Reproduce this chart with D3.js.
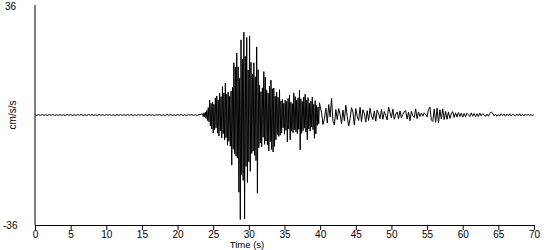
<!DOCTYPE html>
<html>
<head>
<meta charset="utf-8">
<script src="https://d3js.org/d3.v7.min.js"></script>
<style>
  body { margin: 0; background: #fff; }
  text { font-family: "Liberation Sans", Arial, sans-serif; fill: #000; }
</style>
</head>
<body>
<div id="chart"></div>
<script>
// axis labels
var yTickLabels = ["36", "-36"];
var xTickValues = [0, 5, 10, 15, 20, 25, 30, 35, 40, 45, 50, 55, 60, 65, 70];
var xTitle = "Time (s)";
var yTitle = "cm/s/s";

// pre-event noise, 0 - 23 s, one sample every 0.25 s
var preEventStart = 0, preEventStep = 0.25;
var preEvent = [0.1,-0.15,0.15,-0.1,0.15,-0.15,0.1,-0.15,0.15,-0.1,
  0.15,-0.15,0.1,-0.15,0.15,-0.1,0.1,-0.15,0.15,-0.1,
  0.15,-0.15,0.1,-0.15,0.15,-0.1,0.15,-0.15,0.1,-0.15,
  0.15,-0.1,0.15,-0.15,0.1,-0.15,0.15,-0.1,0.1,-0.15,
  0.15,-0.1,0.15,-0.15,0.1,-0.15,0.15,-0.1,0.15,-0.15,
  0.1,-0.15,0.15,-0.1,0.15,-0.15,0.1,-0.15,0.15,-0.1,
  0.15,-0.15,0.1,-0.15,0.15,-0.1,0.1,-0.15,0.15,-0.1,
  0.15,-0.15,0.1,-0.15,0.15,-0.1,0.15,-0.15,0.1,-0.15,
  0.15,-0.1,0.15,-0.15,0.1,-0.15,0.15,-0.1,0.15,-0.15,
  0.1,-0.15,0.1];

// strong motion peaks, 23.5 - 39.9 s, every 0.1 s
var strongStart = 23.5, strongStep = 0.1;
var strongMotion = [
  0.4,-0.5,0.7,-0.6,0.9,-1.1,1.5,-1.8,2.4,-2.2,
  4.9,-3.6,3.8,-4.5,4.1,-5.9,3.5,-4.8,5.6,-4.2,
  6.2,-5.8,4.9,-6.9,7.1,-5.2,6.0,-7.5,9.3,-6.1,
  7.2,-8.1,10.5,-7.4,6.8,-9.9,7.5,-8.6,6.1,-10.2,
  7.8,-16.4,9.1,-11.2,17.1,-12.8,15.6,-13.5,20.3,-14.1,
  15.8,-25.3,12.1,-34.2,24.6,-19.5,18.3,-21.4,27.1,-34.0,
  19.2,-16.8,25.4,-22.1,14.7,-15.3,25.9,-18.4,17.2,-12.6,
  13.4,-11.8,17.1,-13.2,12.5,-14.9,22.3,-25.6,14.8,-10.7,
  9.8,-9.1,7.6,-10.4,8.9,-7.3,14.2,-9.6,12.4,-8.5,
  8.1,-9.8,7.2,-11.8,9.4,-8.7,11.4,-11.3,8.6,-12.1,
  8.8,-10.3,6.2,-8.1,7.5,-6.4,5.8,-7.0,8.3,-6.6,
  4.6,-5.9,5.1,-4.2,3.8,-6.3,4.9,-5.0,4.4,-8.8,
  5.4,-4.6,6.5,-8.1,4.2,-5.3,3.7,-5.8,7.2,-4.9,
  6.0,-5.5,4.8,-6.1,5.6,-4.7,8.2,-11.4,5.3,-6.0,
  4.4,-5.1,5.9,-4.3,6.8,-5.6,4.9,-8.1,5.7,-4.5,
  3.8,-5.3,4.6,-3.9,5.9,-4.8,3.5,-7.6,4.7,-6.2,
  3.1,-3.4,2.6,-2.9,4.0];

// coda, 40 - 70 s, every 0.2 s
var codaStart = 40, codaStep = 0.2;
var coda = [
  2.9,0.8,-3.1,-1.2,2.2,-2.6,3.4,-0.6,5.4,-2.0,
  -3.3,1.8,-1.5,2.1,0.3,-2.8,1.6,-1.9,3.2,-0.5,
  -3.6,-1.2,2.4,1.0,-3.3,2.1,-0.4,-1.8,2.5,-2.2,
  1.7,0.5,-2.3,1.4,-1.8,2.2,-0.3,-1.5,1.3,-2.0,
  1.6,0.4,-1.2,1.8,-1.4,1.1,-0.2,-1.6,2.6,0.9,
  -0.9,1.9,-1.4,0.3,1.0,-1.2,1.3,-0.9,0.2,1.1,
  1.4,-1.3,0.9,-1.9,1.2,-0.2,-0.8,2.0,-1.2,1.0,
  -0.5,0.6,-0.4,0.7,0.2,-0.6,1.8,2.6,-1.6,-2.1,
  1.9,-2.4,2.2,-2.6,1.7,-1.3,2.0,-1.5,1.2,-1.4,
  1.0,-1.1,0.4,1.1,-0.8,0.7,-0.6,0.8,-0.5,0.6,
  -0.7,0.5,-0.6,0.6,0.1,-0.5,0.7,-0.4,0.5,-0.6,
  0.4,-0.5,0.6,-0.3,0.4,0.1,-0.5,0.3,-0.4,0.5,
  1.0,0.6,-0.3,0.3,-0.4,0.1,-0.3,0.4,-0.2,0.3,
  -0.4,0.3,-0.2,0.4,-0.3,0.2,0.0,-0.3,0.3,-0.2,
  0.4,-0.3,0.2,-0.3,0.3,-0.2,0.3,-0.2,0.2,-0.3,
  0.2];

// build one series of [time, value]
var trace = [];
function addSegment(start, step, values) {
  values.forEach(function(v, i) { trace.push([start + i * step, v]); });
}
addSegment(preEventStart, preEventStep, preEvent);
addSegment(strongStart, strongStep, strongMotion);
addSegment(codaStart, codaStep, coda);

var width = 550, height = 250;
var svg = d3.select("#chart").append("svg")
  .attr("width", width)
  .attr("height", height);

var x = d3.scaleLinear().domain([0, 70]).range([35, 534]);
var y = d3.scaleLinear().domain([-36, 36]).range([225, 5]);

// trace
var line = d3.line()
  .x(function(d) { return x(d[0]); })
  .y(function(d) { return y(d[1]); });

svg.append("path")
  .datum(trace)
  .attr("fill", "none")
  .attr("stroke", "#000")
  .attr("stroke-width", 1)
  .attr("d", line);

// x axis
var xAxis = svg.append("g")
  .attr("transform", "translate(0," + y(-36) + ")")
  .call(d3.axisBottom(x).tickValues(xTickValues).tickSize(5).tickSizeOuter(0));
xAxis.select(".domain").attr("stroke", "#000");
xAxis.selectAll("line").attr("stroke", "#000");
xAxis.selectAll("text")
  .attr("font-size", 10)
  .attr("font-family", "Liberation Sans, Arial, sans-serif")
  .attr("y", 6);

// y axis: bare line
svg.append("line")
  .attr("x1", x(0)).attr("x2", x(0))
  .attr("y1", y(36)).attr("y2", y(-36))
  .attr("stroke", "#000");

svg.append("text")
  .attr("x", 5).attr("y", y(36) + 5)
  .attr("font-size", 10)
  .text(yTickLabels[0]);

svg.append("text")
  .attr("x", 3).attr("y", y(-36) + 4)
  .attr("font-size", 10)
  .text(yTickLabels[1]);

svg.append("text")
  .attr("transform", "translate(16," + y(0) + ") rotate(-90)")
  .attr("text-anchor", "middle")
  .attr("font-size", 10)
  .text(yTitle);

svg.append("text")
  .attr("x", 247).attr("y", 248)
  .attr("text-anchor", "middle")
  .attr("font-size", 9.5)
  .text(xTitle);
</script>
</body>
</html>
